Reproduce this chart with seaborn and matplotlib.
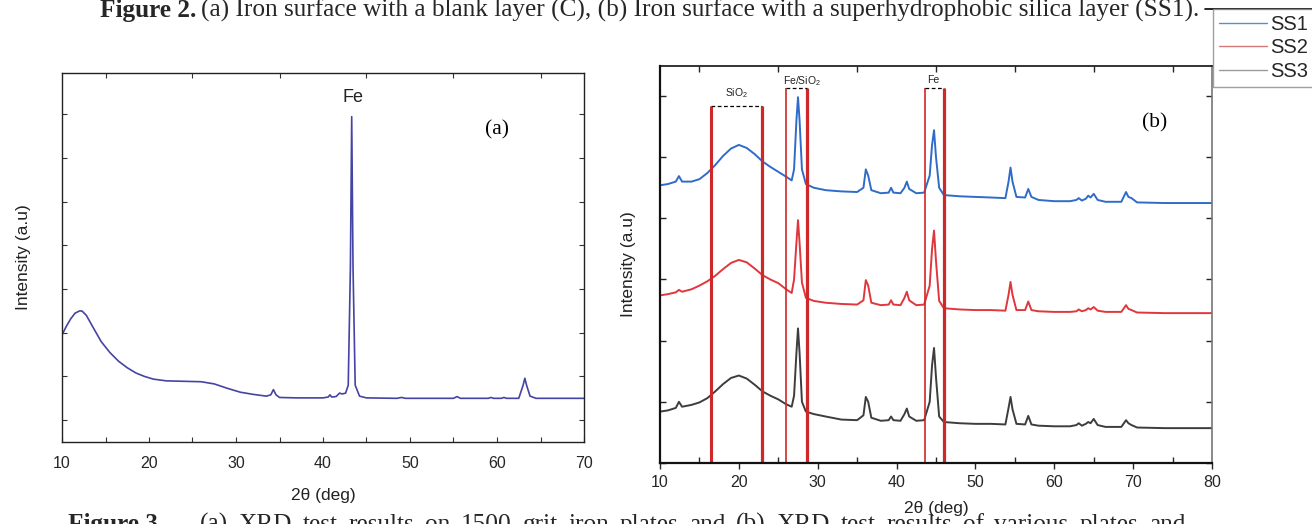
import matplotlib
matplotlib.use("Agg")
import matplotlib.pyplot as plt
from matplotlib.lines import Line2D
import numpy as np
import pandas as pd
import seaborn as sns

# ---------------- data ----------------
# panel (a): 1500 grit iron plate
two_theta_a = [10, 10.5, 11, 11.5, 12, 12.3, 12.8, 13.5, 14.5, 15.5, 16.5, 17.5, 18.5,
               19.5, 20.5, 22, 24, 26, 27.5, 29, 30.5, 32, 33.5, 34.0, 34.3, 34.6, 35,
               37, 40, 40.6, 40.8, 41.0, 41.5, 41.9, 42.2, 42.6, 42.9, 43.15, 43.3, 43.45,
               43.7, 44.2, 45, 48.5, 49, 49.5, 55, 55.4, 55.8, 59, 59.3, 59.6, 60.5, 60.8,
               61.1, 62.5, 63.0, 63.2, 63.4, 63.8, 64.5, 70]
intensity_a = [2.45, 2.65, 2.82, 2.95, 3.0, 3.0, 2.9, 2.65, 2.3, 2.05, 1.85, 1.7, 1.58,
               1.5, 1.44, 1.4, 1.39, 1.38, 1.33, 1.23, 1.14, 1.09, 1.05, 1.08, 1.2, 1.08, 1.02,
               1.01, 1.01, 1.03, 1.08, 1.03, 1.04, 1.12, 1.1, 1.12, 1.3, 4.0, 7.45, 4.0,
               1.3, 1.05, 1.01, 1.0, 1.02, 1.0, 1.0, 1.04, 1.0, 1.0, 1.02, 1.0, 1.0, 1.02,
               1.0, 1.0, 1.3, 1.46, 1.3, 1.05, 1.0, 1.0]

# panel (b): SS1, SS2, SS3 (stacked traces)
two_theta_b = [10, 11, 12, 12.4, 12.8, 14, 15, 16, 17, 18, 19, 20, 21, 22, 23, 24, 25, 26,
               26.7, 27.0, 27.3, 27.5, 27.7, 28.0, 28.5, 29.5, 31, 33, 35, 35.8, 36.1, 36.4,
               36.8, 38, 39.0, 39.3, 39.6, 40.5, 41.0, 41.3, 41.6, 42.5, 43.5, 44.2, 44.5,
               44.75, 45.0, 45.4, 46, 48, 50, 52, 53.8, 54.2, 54.45, 54.7, 55.2, 56.3, 56.7,
               57.1, 58, 60, 62, 62.8, 63.1, 63.5, 64.0, 64.3, 64.6, 65.0, 65.5, 66.5, 68.5,
               69.1, 69.4, 69.8, 70.5, 74, 80]
ss1 = [4.54, 4.56, 4.6, 4.69, 4.6, 4.6, 4.64, 4.74, 4.87, 5.02, 5.14, 5.2, 5.15, 5.05,
       4.93, 4.84, 4.76, 4.68, 4.62, 4.8, 5.6, 5.98, 5.6, 4.8, 4.56, 4.5, 4.46, 4.44, 4.43,
       4.5, 4.8, 4.7, 4.46, 4.41, 4.42, 4.5, 4.42, 4.41, 4.5, 4.6, 4.48, 4.41, 4.42, 4.7,
       5.2, 5.44, 5.0, 4.5, 4.38, 4.36, 4.35, 4.34, 4.33, 4.6, 4.83, 4.6, 4.35, 4.34, 4.48,
       4.35, 4.3, 4.28, 4.28, 4.3, 4.33, 4.29, 4.32, 4.37, 4.34, 4.4, 4.3, 4.27, 4.27,
       4.43, 4.35, 4.33, 4.26, 4.25, 4.25]
ss2 = [2.74, 2.76, 2.79, 2.83, 2.8, 2.84, 2.9, 2.97, 3.06, 3.17, 3.27, 3.32, 3.28, 3.18,
       3.07, 3.0, 2.94, 2.84, 2.78, 3.0, 3.6, 3.97, 3.6, 2.95, 2.7, 2.65, 2.62, 2.6, 2.59,
       2.66, 2.99, 2.9, 2.62, 2.58, 2.59, 2.66, 2.59, 2.58, 2.7, 2.8, 2.66, 2.58, 2.59, 2.9,
       3.5, 3.8, 3.3, 2.65, 2.53, 2.51, 2.5, 2.5, 2.49, 2.75, 2.96, 2.75, 2.5, 2.5, 2.64,
       2.5, 2.48, 2.47, 2.47, 2.48, 2.51, 2.48, 2.5, 2.53, 2.51, 2.55, 2.49, 2.47, 2.47,
       2.58, 2.52, 2.5, 2.46, 2.45, 2.45]
ss3 = [0.84, 0.86, 0.9, 1.0, 0.92, 0.95, 0.99, 1.06, 1.17, 1.29, 1.39, 1.43, 1.38, 1.28,
       1.17, 1.1, 1.04, 0.96, 0.92, 1.1, 1.8, 2.2, 1.8, 1.0, 0.84, 0.8, 0.76, 0.71, 0.7,
       0.78, 1.08, 1.0, 0.74, 0.69, 0.7, 0.76, 0.7, 0.69, 0.8, 0.89, 0.76, 0.69, 0.7, 1.0,
       1.6, 1.88, 1.4, 0.76, 0.67, 0.65, 0.64, 0.64, 0.63, 0.9, 1.08, 0.88, 0.64, 0.63, 0.77,
       0.63, 0.61, 0.6, 0.6, 0.62, 0.65, 0.61, 0.64, 0.67, 0.65, 0.72, 0.62, 0.59, 0.59,
       0.7, 0.65, 0.62, 0.58, 0.57, 0.57]
series_names = ["SS1", "SS2", "SS3"]

xticks_a = [10, 20, 30, 40, 50, 60, 70]
xticks_b = [10, 20, 30, 40, 50, 60, 70, 80]

# phase marker bands in panel (b)
band_labels = ["SiO$_2$", "Fe/SiO$_2$", "Fe"]
band_left = [16.5, 26.0, 43.6]
band_right = [22.9, 28.7, 46.0]
band_top = [5.83, 6.13, 6.13]
band_label_x = [19.7, 28.0, 44.6]
band_label_y = [6.05, 6.25, 6.26]

caption_top = ("(a) Iron surface with a blank layer (C), (b) Iron surface with a "
               "superhydrophobic silica layer (SS1).")
caption_bottom = ("(a) XRD test results on 1500 grit iron plates and (b) XRD test "
                  "results of various plates and")

# ---------------- styling ----------------
sns.set_style("ticks")
plt.rcParams["font.family"] = ["Liberation Sans", "DejaVu Sans"]
plt.rcParams["mathtext.fontset"] = "custom"
plt.rcParams["mathtext.rm"] = "Liberation Sans"

W, H = 1312, 524
fig = plt.figure(figsize=(W / 100, H / 100), dpi=100)
fig.patch.set_facecolor("white")

ax_a = fig.add_axes([62 / W, (H - 442) / H, 522 / W, 369 / H])
ax_b = fig.add_axes([660 / W, (H - 463) / H, 552 / W, 397 / H])

# ---- panel (a)
sns.lineplot(x=two_theta_a, y=intensity_a, ax=ax_a, color="#4444a4", lw=1.2,
             estimator=None, sort=False)
ax_a.set_xlim(10, 70)
ax_a.set_ylim(0, 8.45)
ax_a.set_xticks(xticks_a)
ax_a.set_xticks([15, 25, 35, 45, 55, 65], minor=True)
ax_a.set_yticks(np.arange(0.5, 8.0, 1.0))
ax_a.tick_params(axis="y", which="major", left=True, right=True, direction="in",
                 length=3.5, labelleft=False, width=0.8, color="#333333")
ax_a.tick_params(axis="x", which="major", bottom=True, top=False, direction="in",
                 length=3.5, labelsize=11.5, pad=10, width=0.8, color="#333333")
ax_a.tick_params(axis="x", which="minor", bottom=True, top=True, direction="in",
                 length=3.5, width=0.8, color="#333333")
for s in ax_a.spines.values():
    s.set_visible(True)
    s.set_linewidth(1.0)
    s.set_color("#222222")
ax_a.set_xlabel("2θ (deg)", fontsize=12.5, labelpad=12, color="#222222")
ax_a.set_ylabel("Intensity (a.u)", fontsize=12.5, labelpad=22, color="#222222")
ax_a.text(43.4, 7.9, "Fe", ha="center", va="center", fontsize=13, color="#222222")
ax_a.text(60, 7.14, "(a)", ha="center", va="center", fontsize=15.5,
          family="Liberation Serif", color="black")

# ---- panel (b)
df_b = pd.DataFrame({
    "two_theta": two_theta_b * 3,
    "intensity": ss1 + ss2 + ss3,
    "sample": [series_names[0]] * len(ss1) + [series_names[1]] * len(ss2)
              + [series_names[2]] * len(ss3),
})
sns.lineplot(data=df_b, x="two_theta", y="intensity", hue="sample",
             palette=["#2f6cc9", "#e0373c", "#3d3d3d"], ax=ax_b, lw=1.4,
             estimator=None, sort=False, legend=False)
ax_b.set_xlim(10, 80)
ax_b.set_ylim(0, 6.49)
ax_b.set_xticks(xticks_b)
ax_b.set_xticks([15, 25, 35, 45, 55, 65, 75], minor=True)
ax_b.set_yticks(np.arange(0, 7, 1))
ax_b.tick_params(axis="y", which="major", left=True, right=True, direction="in",
                 length=4, labelleft=False, width=1.0, color="#222222")
ax_b.tick_params(axis="x", which="major", bottom=True, top=False, direction="out",
                 length=4, labelsize=11.5, pad=4.5, width=1.0)
ax_b.tick_params(axis="x", which="minor", bottom=True, top=True, direction="in",
                 length=4, width=1.0)
for name, s in ax_b.spines.items():
    s.set_visible(True)
    s.set_linewidth(1.6 if name in ("left", "bottom") else 1.2)
    s.set_color("#111111" if name != "right" else "#777777")
ax_b.set_xlabel("2θ (deg)", fontsize=12.5, labelpad=8, color="#222222")
ax_b.set_ylabel("Intensity (a.u)", fontsize=12.5, labelpad=17, color="#222222")

left_lw = [2.2, 1.2, 1.2]
for xl, xr, top, lab, lx, ly, llw in zip(band_left, band_right, band_top, band_labels,
                                          band_label_x, band_label_y, left_lw):
    ax_b.vlines([xl], 0, top, color="#d02828", lw=llw)
    ax_b.vlines([xr], 0, top, color="#d02828", lw=2.3)
    ax_b.hlines(top, xl, xr, color="black", lw=0.9, linestyles=(0, (3, 2)))
    ax_b.text(lx, ly, lab, ha="center", va="center", fontsize=7.5, color="#222222")
ax_b.text(72.7, 5.56, "(b)", ha="center", va="center", fontsize=15.5,
          family="Liberation Serif", color="black")

# ---- legend (outside, top-right)
handles = [Line2D([], [], color=c, lw=1.0) for c in ["#5b8fc2", "#d27a7a", "#9a9a9a"]]
leg = fig.legend(handles=handles, labels=series_names, loc="upper left",
                 bbox_to_anchor=(1213 / W, 1 - 9 / H), bbox_transform=fig.transFigure,
                 frameon=True, fancybox=False, edgecolor="#888888", fontsize=14.5,
                 handlelength=2.4, handletextpad=0.15, labelspacing=0.22,
                 borderpad=0.3, borderaxespad=0)
leg.get_frame().set_linewidth(1.0)
fig.add_artist(Line2D([1205 / W, 1.0], [1 - 9 / H, 1 - 9 / H], transform=fig.transFigure,
                      color="black", lw=1.2))

# ---- captions (page text around the figure)
cap_fs = 18.2
t1 = fig.text(100 / W, 1 - 17 / H, "Figure 2.", fontsize=cap_fs, fontweight="bold",
              family="Liberation Serif", va="baseline", ha="left")
b1 = fig.text(68 / W, 1 - 531 / H, "Figure 3.", fontsize=cap_fs, fontweight="bold",
              family="Liberation Serif", va="baseline", ha="left")
fig.canvas.draw()
r = fig.canvas.get_renderer()
bb = t1.get_window_extent(r)
fig.text((bb.x1 + 5) / W, 1 - 17 / H, caption_top,
         fontsize=cap_fs, family="Liberation Serif", va="baseline", ha="left")

# justified last caption line: words spread between x=200 and x=1185 px
words = caption_bottom.split()
word_texts = [fig.text(0, 1 - 531 / H, w, fontsize=cap_fs, family="Liberation Serif",
                       va="baseline", ha="left") for w in words]
widths = [t.get_window_extent(r).width for t in word_texts]
x_start, x_end = 200, 1185
gap = (x_end - x_start - sum(widths)) / (len(words) - 1)
x = x_start
for t, w in zip(word_texts, widths):
    t.set_x(x / W)
    x += w + gap

fig.savefig("out.png", dpi=100)
